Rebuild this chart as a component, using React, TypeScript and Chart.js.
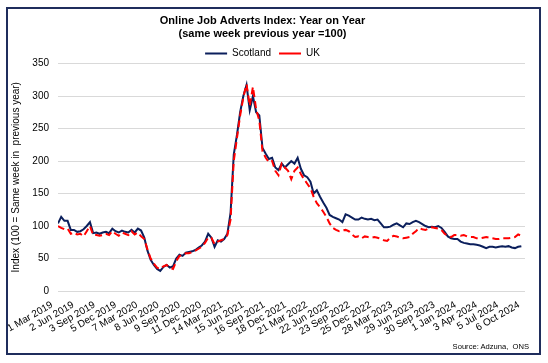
import React, { useEffect, useRef } from "react";
import { Chart, registerables } from "chart.js";

Chart.register(...registerables);

const titleLines = ["Online Job Adverts Index: Year on Year", "(same week previous year =100)"];
const seriesNames = ["Scotland", "UK"];
const seriesColors = ["#0B1F5C", "#FF0000"];
const startDateLabel = "1 Mar 2019";
const stepDays = 14;

const scotland = [
  104, 114, 108, 108, 94, 94, 91, 92, 95, 100,
  106, 89, 90, 88, 90, 91, 89, 96, 92, 90,
  93, 91, 90, 94, 90, 96, 93, 82, 62, 48,
  40, 34, 31, 37, 40, 36, 38, 50, 56, 54,
  59, 60, 61, 63, 67, 70, 76, 88, 82, 68,
  78, 76, 80, 88, 120, 210, 240, 275, 300, 317,
  278, 300, 275, 270, 220, 211, 203, 205, 190, 186,
  196, 190, 195, 200, 196, 205, 188, 178, 175, 168,
  150, 155, 145, 136, 128, 117, 114, 112, 110, 106,
  118, 116, 113, 110, 110, 113, 111, 110, 111, 109,
  110, 104, 98, 98, 99, 102, 104, 101, 98, 104,
  103, 106, 108, 106, 103, 100, 98, 99, 98, 100,
  97, 91, 84, 81, 80, 80, 76, 74, 73, 72,
  72, 71, 70, 68, 66, 68, 68, 67, 68, 69,
  68, 69, 67, 66, 68, 69,
];

const uk = [
  100, 97, 95, 96, 88, 90, 87, 88, 84, 92,
  100, 86, 86, 85, 86, 88, 86, 92, 88, 85,
  90, 88, 86, 92, 87, 90, 84, 80, 64, 50,
  42, 36, 34, 38, 40, 36, 34, 46, 54, 55,
  58, 58, 60, 62, 65, 68, 74, 82, 82, 72,
  76, 78, 80, 86, 110, 200, 235, 270, 298, 318,
  285, 314, 280, 262, 215, 205, 198, 200, 185, 178,
  196, 190, 185, 172, 185, 190, 180, 172, 165, 158,
  145, 135, 129, 122, 114, 104, 97, 94, 92, 93,
  94, 92, 87, 83, 84, 81, 84, 83, 82, 83,
  82, 80, 78, 77, 82, 85, 84, 82, 81, 82,
  83, 88, 92, 97, 95, 94, 96, 98, 97, 96,
  94, 88, 85, 83, 86, 86, 85, 86, 84, 83,
  83, 81, 81, 82, 83, 82, 81, 80, 80, 81,
  81, 81, 82, 83, 87, 85,
];

const xTickLabels = [
  "1 Mar 2019", "2 Jun 2019", "3 Sep 2019", "5 Dec 2019",
  "7 Mar 2020", "8 Jun 2020", "9 Sep 2020", "11 Dec 2020",
  "14 Mar 2021", "15 Jun 2021", "16 Sep 2021", "18 Dec 2021",
  "21 Mar 2022", "22 Jun 2022", "23 Sep 2022", "25 Dec 2022",
  "28 Mar 2023", "29 Jun 2023", "30 Sep 2023",
  "1 Jan 2024", "3 Apr 2024", "5 Jul 2024", "6 Oct 2024",
];
const xTickStepDays = 93;

const yMin = 0;
const yMax = 350;
const yStep = 50;
const yAxisTitle = "Index (100 = Same week in  previous year)";
const sourceText = "Source: Adzuna,  ONS";

const FONT = "'Liberation Sans', Arial, sans-serif";

export default function App() {
  const canvasRef = useRef<HTMLCanvasElement | null>(null);

  useEffect(() => {
    const canvas = canvasRef.current;
    if (!canvas) return;
    Chart.defaults.font.family = FONT;
    Chart.defaults.color = "#000";

    const toPoints = (arr: number[]) => arr.map((v, i) => ({ x: i * stepDays, y: v }));

    const chart = new Chart(canvas, {
      type: "line",
      data: {
        datasets: [
          {
            label: seriesNames[0],
            data: toPoints(scotland),
            borderColor: seriesColors[0],
            backgroundColor: seriesColors[0],
            borderWidth: 2,
            pointRadius: 0,
            tension: 0,
            order: 2,
          },
          {
            label: seriesNames[1],
            data: toPoints(uk),
            borderColor: seriesColors[1],
            backgroundColor: seriesColors[1],
            borderWidth: 2,
            borderDash: [7, 4],
            pointRadius: 0,
            tension: 0,
            order: 1,
          },
        ],
      },
      options: {
        responsive: false,
        animation: false,
        devicePixelRatio: 1,
        layout: { padding: { top: 0, left: 0, right: 23, bottom: 0 } },
        plugins: {
          tooltip: { enabled: false },
          title: {
            display: true,
            text: titleLines,
            color: "#000",
            font: { size: 11, weight: "bold", lineHeight: 1.2, family: FONT },
            padding: { top: 14, bottom: 0 },
          },
          legend: {
            display: true,
            position: "top",
            maxHeight: 23.1,
            labels: {
              usePointStyle: true,
              pointStyle: "line",
              pointStyleWidth: 22,
              boxHeight: 10,
              padding: 8,
              color: "#000",
              font: { size: 10, family: FONT },
              sort: (a: any, b: any) => a.datasetIndex - b.datasetIndex,
            },
          },
        },
        scales: {
          x: {
            type: "linear",
            min: 0,
            max: (xTickLabels.length - 1) * xTickStepDays,
            grid: { display: false, drawTicks: false },
            border: { display: false },
            ticks: {
              stepSize: xTickStepDays,
              autoSkip: false,
              minRotation: 30,
              maxRotation: 30,
              padding: 8,
              labelOffset: -6,
              color: "#000",
              font: { size: 10, family: FONT },
              callback: (v: any) => {
                const idx = Math.round(Number(v) / xTickStepDays);
                return xTickLabels[idx] ?? "";
              },
            },
            afterFit: (s: any) => {
              s.height = 72;
            },
          },
          y: {
            min: yMin,
            max: yMax,
            grid: { color: "#D9D9D9", lineWidth: 1, drawTicks: false },
            border: { display: false },
            ticks: {
              stepSize: yStep,
              padding: 9,
              color: "#000",
              font: { size: 10, family: FONT },
            },
            title: {
              display: true,
              text: yAxisTitle,
              color: "#000",
              font: { size: 10, family: FONT, lineHeight: 1.2 },
              padding: { top: 10, bottom: 0 },
            },
            afterFit: (s: any) => {
              s.width = 58;
            },
          },
        },
      },
    } as any);

    return () => chart.destroy();
  }, []);

  return (
    <div
      style={{
        position: "fixed",
        left: 0,
        top: 0,
        width: 548,
        height: 363,
        background: "#fff",
        overflow: "hidden",
      }}
      data-start={startDateLabel}
    >
      <canvas
        ref={canvasRef}
        width={548}
        height={363}
        style={{ position: "absolute", left: 0, top: 0, width: 548, height: 363, display: "block" }}
      />
      <div
        style={{
          position: "absolute",
          left: 6,
          top: 7,
          width: 531,
          height: 344,
          border: "2px solid #1F2D5C",
          pointerEvents: "none",
        }}
      />
      <div
        style={{
          position: "absolute",
          right: 19,
          top: 342,
          fontFamily: FONT,
          fontSize: 7.6,
          lineHeight: "10px",
          color: "#000",
          whiteSpace: "pre",
        }}
      >
        {sourceText}
      </div>
    </div>
  );
}
